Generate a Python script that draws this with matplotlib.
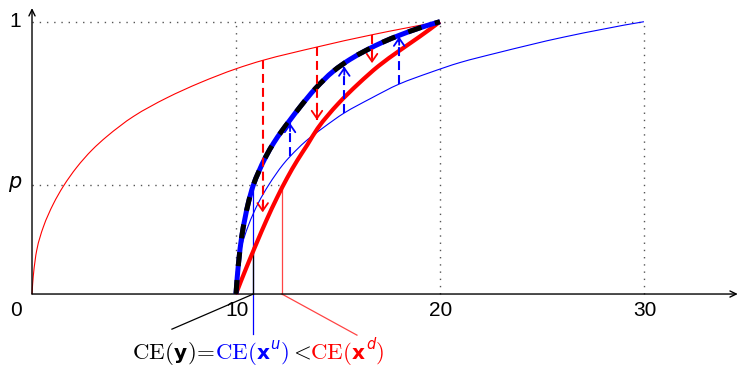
import matplotlib
matplotlib.use("Agg")
import matplotlib.pyplot as plt
import numpy as np
from matplotlib.path import Path
from matplotlib.patches import PathPatch
from matplotlib.transforms import offset_copy

# ---------------- data ----------------
p_level = 0.40
x_ticks = [0, 10, 20, 30]
x_tick_labels = ["0", "10", "20", "30"]

thin_red_x = [0, 0.06, 0.23, 0.55, 1.04, 1.53, 2.19, 2.93, 3.66, 4.97, 6.60, 8.24, 10.0, 11.31, 13.97, 16.67, 20]
thin_red_y = [0, 0.064, 0.16, 0.245, 0.33, 0.395, 0.465, 0.528, 0.578, 0.652, 0.72, 0.776, 0.827, 0.858, 0.907, 0.952, 1.0]

thin_blue_x = [10, 10.06, 10.25, 10.6, 11.1, 11.6, 12.3, 12.65, 13.4, 14.3, 15.31, 16.6, 18.0, 19.5, 20.98, 22.78, 26.04, 30]
thin_blue_y = [0, 0.064, 0.165, 0.25, 0.335, 0.40, 0.475, 0.505, 0.56, 0.612, 0.665, 0.718, 0.771, 0.813, 0.85, 0.885, 0.943, 1.0]

thick_red_x = [10, 10.5, 11, 11.5, 12, 12.5, 13, 13.5, 14, 15, 16, 17, 18, 19, 20]
thick_red_y = [0, 0.095, 0.185, 0.272, 0.352, 0.425, 0.49, 0.548, 0.608, 0.698, 0.772, 0.838, 0.893, 0.945, 1.0]

thick_blue_x = [10, 10.12, 10.28, 10.60, 10.85, 11.09, 11.46, 11.85, 12.24, 12.6, 13.14, 13.9, 14.77, 15.6, 16.41, 17.2, 18.04, 19.0, 20]
thick_blue_y = [0, 0.11, 0.21, 0.333, 0.40, 0.445, 0.504, 0.555, 0.598, 0.634, 0.687, 0.755, 0.818, 0.862, 0.896, 0.925, 0.951, 0.977, 1.0]

red_arrow_x = [11.31, 13.97, 16.67]
red_arrow_top = [0.858, 0.907, 0.952]
red_arrow_tip = [0.30, 0.639, 0.848]

blue_arrow_x = [12.65, 15.31, 18.0]
blue_arrow_base = [0.505, 0.665, 0.771]
blue_arrow_tip = [0.628, 0.835, 0.945]

ce_y = 10.85
ce_u = 10.85
ce_d = 12.25

RED = "#ff0000"
BLUE = "#0000ff"


def pchip_slopes(x, y):
    x = np.asarray(x, float)
    y = np.asarray(y, float)
    h = np.diff(x)
    d = np.diff(y) / h
    n = len(x)
    m = np.zeros(n)
    for k in range(1, n - 1):
        if d[k - 1] * d[k] <= 0:
            m[k] = 0.0
        else:
            w1 = 2 * h[k] + h[k - 1]
            w2 = h[k] + 2 * h[k - 1]
            m[k] = (w1 + w2) / (w1 / d[k - 1] + w2 / d[k])

    def end(h0, h1, d0, d1):
        s = ((2 * h0 + h1) * d0 - h0 * d1) / (h0 + h1)
        if np.sign(s) != np.sign(d0):
            s = 0.0
        elif np.sign(d0) != np.sign(d1) and abs(s) > abs(3 * d0):
            s = 3 * d0
        return s

    m[0] = end(h[0], h[1], d[0], d[1])
    m[-1] = end(h[-1], h[-2], d[-1], d[-2])
    return m


def smooth_path(xs, ys):
    """Monotone cubic (PCHIP) curve through the points, drawn as Bezier segments."""
    x = np.asarray(xs, float)
    y = np.asarray(ys, float)
    m = pchip_slopes(x, y)
    verts = [(x[0], y[0])]
    codes = [Path.MOVETO]
    for i in range(len(x) - 1):
        h = x[i + 1] - x[i]
        verts += [(x[i] + h / 3, y[i] + m[i] * h / 3),
                  (x[i + 1] - h / 3, y[i + 1] - m[i + 1] * h / 3),
                  (x[i + 1], y[i + 1])]
        codes += [Path.CURVE4] * 3
    return Path(verts, codes)


def curve(xs, ys, **kw):
    patch = PathPatch(smooth_path(xs, ys), fill=False, **kw)
    ax.add_patch(patch)
    return patch


# ---------------- figure ----------------
fig = plt.figure(figsize=(7.39, 3.67), dpi=100)
ax = fig.add_axes([0, 0, 1, 1])
ax.set_xlim(-1.569, 34.66)
ax.set_ylim(-0.268, 1.0797)
ax.axis("off")

dot = dict(color="#555555", lw=1.0, linestyle=(0, (1, 4.2)), zorder=1)
# dotted guides
ax.plot([0, 30], [1, 1], **dot)
for xv in x_ticks[1:]:
    ax.plot([xv, xv], [0, 1], **dot)
ax.plot([0, ce_d], [p_level, p_level], **dot)

# thin curves
curve(thin_red_x, thin_red_y, edgecolor=RED, lw=0.8, zorder=2)
curve(thin_blue_x, thin_blue_y, edgecolor=BLUE, lw=0.8, zorder=2)

# axes with arrows
ax.annotate("", xy=(34.6, 0), xytext=(0, 0),
            arrowprops=dict(arrowstyle="->,head_length=0.45,head_width=0.22", lw=1.0, color="black",
                            shrinkA=0, shrinkB=0), zorder=3)
ax.annotate("", xy=(0, 1.05), xytext=(0, 0),
            arrowprops=dict(arrowstyle="->,head_length=0.45,head_width=0.22", lw=1.0, color="black",
                            shrinkA=0, shrinkB=0), zorder=3)

# CE guide lines
ax.plot([ce_d, ce_d], [p_level, 0], color="#ff4444", lw=0.9, zorder=2)
ax.plot([ce_d, 15.93], [0, -0.151], color="#ff4444", lw=0.9, zorder=2, clip_on=False)
ax.plot([ce_u, ce_u], [p_level, -0.147], color=BLUE, lw=0.9, zorder=2, clip_on=False)
ax.plot([ce_y, ce_y], [0.174, 0], color="black", lw=0.9, zorder=2.1)
ax.plot([ce_y, 6.86], [0, -0.129], color="black", lw=0.9, zorder=2, clip_on=False)

# thick curves
curve(thick_red_x, thick_red_y, edgecolor=RED, lw=3.0, zorder=4, capstyle="butt")
curve(thick_blue_x, thick_blue_y, edgecolor=BLUE, lw=3.6, zorder=5, capstyle="butt")
curve(thick_blue_x, thick_blue_y, edgecolor="black", lw=3.6, zorder=6,
      linestyle=(0, (2.8, 2.8)), capstyle="butt")

# dashed arrows
def dashed_arrow(x, y0, y1, color):
    ax.plot([x, x], [y0, y1], color=color, lw=1.5, linestyle=(0, (4.3, 2.4)), zorder=7)
    d = 0.03 if y1 > y0 else -0.03
    ax.annotate("", xy=(x, y1), xytext=(x, y1 - d),
                arrowprops=dict(arrowstyle="->,head_length=0.55,head_width=0.38", lw=1.3,
                                color=color, shrinkA=0, shrinkB=0), zorder=7)

for xv, a, b in zip(red_arrow_x, red_arrow_top, red_arrow_tip):
    dashed_arrow(xv, a, b, RED)
for xv, a, b in zip(blue_arrow_x, blue_arrow_base, blue_arrow_tip):
    dashed_arrow(xv, a, b, BLUE)

# tick labels
tick_font = dict(fontsize=15, family="Liberation Sans", ha="center", va="center")
for xv, lab in zip(x_ticks, x_tick_labels):
    xo = -0.78 if xv == 0 else xv + 0.05
    ax.text(xo, -0.062, lab, **tick_font)
ax.text(-0.83, 1.0, "1", **tick_font)
ax.text(-0.83, p_level + 0.01, "p", fontsize=15, style="italic", ha="center", va="center",
        family="DejaVu Sans")

# bottom label (pieces chained along a baseline)
pieces = [
    (r"$\mathrm{CE}($", "black", "math"),
    ("y", "black", "bold"),
    (r"$)\!=\!$", "black", "math"),
    (r"$\mathrm{CE}($", BLUE, "math"),
    ("x", BLUE, "bold"),
    ("u", BLUE, "sup"),
    (r"$)$", BLUE, "math"),
    (r"$<$", "black", "math"),
    (r"$\mathrm{CE}($", RED, "math"),
    ("x", RED, "bold"),
    ("d", RED, "sup"),
    (r"$)$", RED, "math"),
]
fig.canvas.draw()
renderer = fig.canvas.get_renderer()
trans = ax.transData
x0, y0 = 4.9, -0.238
for s, c, kind in pieces:
    if kind == "math":
        t = ax.text(x0, y0, s, color=c, fontsize=16.5, math_fontfamily="cm", va="baseline",
                    transform=trans, clip_on=False)
    elif kind == "bold":
        t = ax.text(x0, y0, s, color=c, fontsize=14.5, weight="bold", family="DejaVu Sans",
                    va="baseline", transform=trans, clip_on=False)
    else:
        t = ax.text(x0, y0, s, color=c, fontsize=10.5, style="italic", family="DejaVu Sans",
                    va="baseline", transform=offset_copy(trans, fig=fig, x=0.5, y=7, units="points"),
                    clip_on=False)
        t.draw(renderer)
        ex = t.get_window_extent(renderer)
        trans = offset_copy(trans, fig=fig, x=ex.width + 1, units="dots")
        continue
    t.draw(renderer)
    ex = t.get_window_extent(renderer)
    trans = offset_copy(t.get_transform(), fig=fig, x=ex.width, units="dots")

fig.savefig("out.png", dpi=100)
